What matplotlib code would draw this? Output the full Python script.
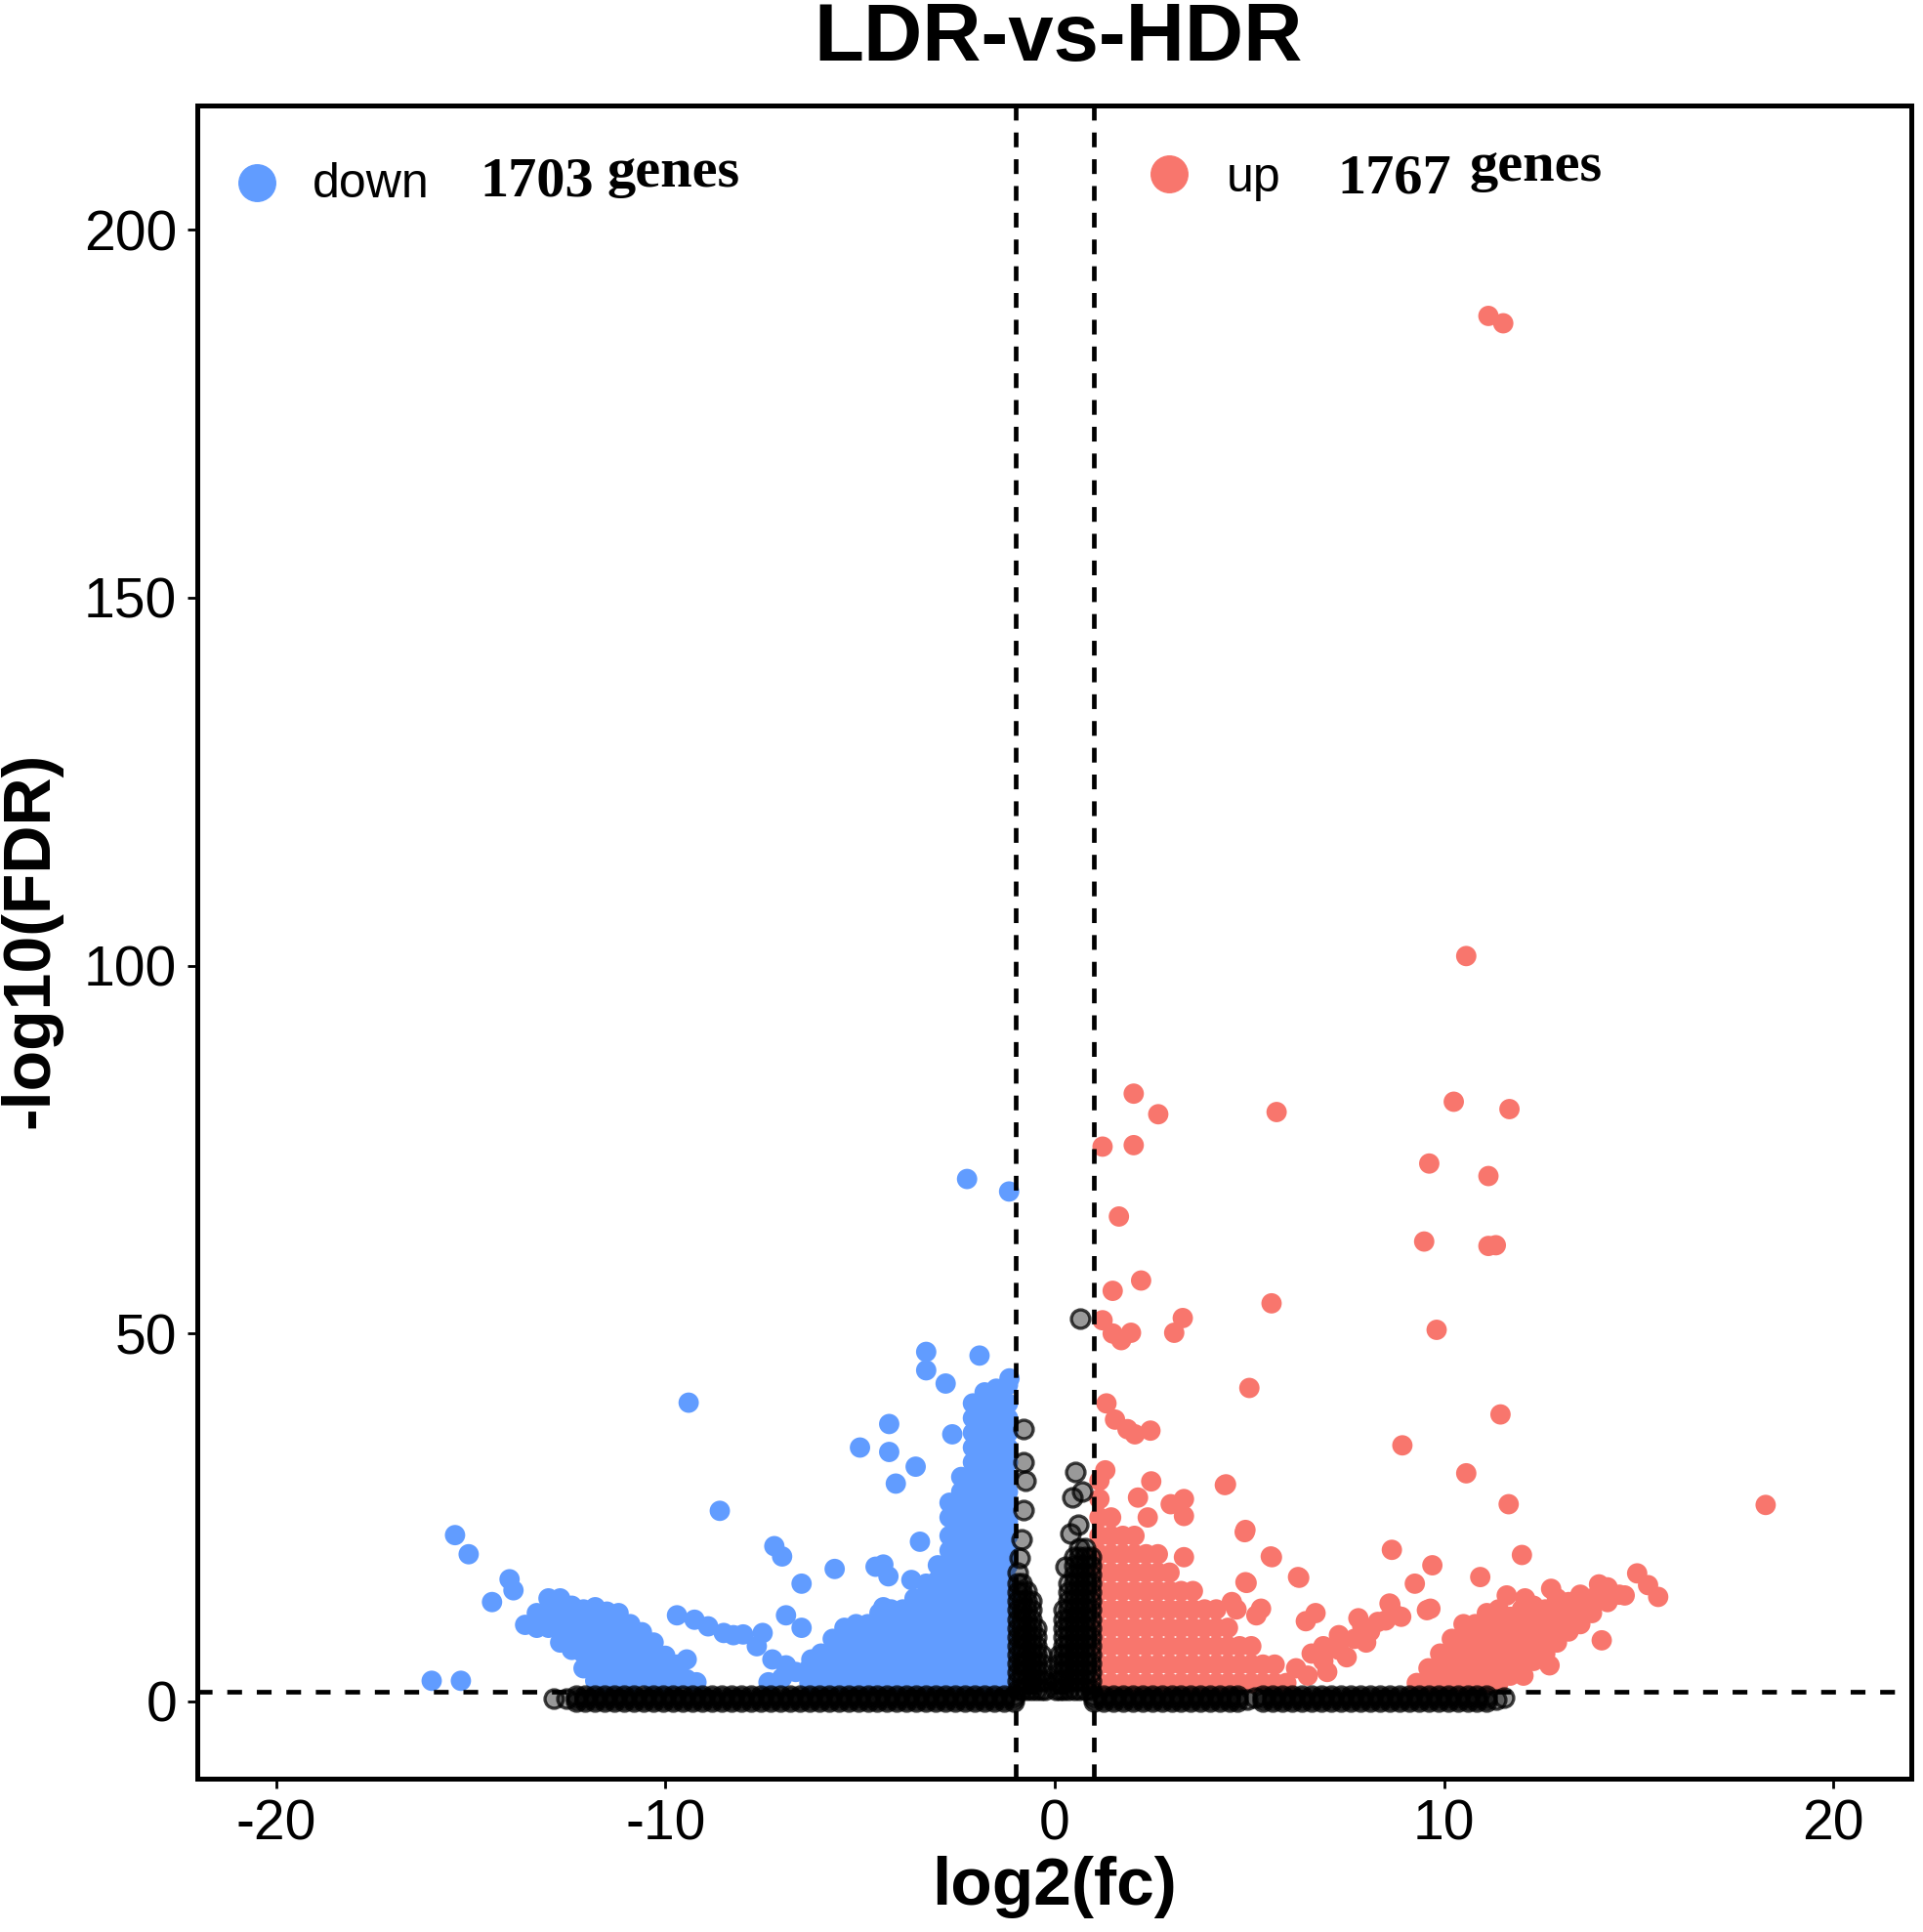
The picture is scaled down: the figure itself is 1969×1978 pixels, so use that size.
import matplotlib
matplotlib.use('Agg')
import matplotlib.pyplot as plt

plt.rcParams['font.family'] = ['Liberation Sans', 'DejaVu Sans']
plt.rcParams['axes.unicode_minus'] = False

# colours of the ggplot volcano
down_col = '#619CFF'
up_col = '#F8766D'

# thresholds drawn as dashed lines
fc_cut = [-1, 1]
fdr_cut = 1.3

# x tick / y tick values
x_ticks = [-20, -10, 0, 10, 20]
y_ticks = [0, 50, 100, 150, 200]

# ---------------- down regulated (blue) ----------------
down_points = [
    (-16.0, 2.8), (-15.25, 2.8), (-15.4, 22.6), (-15.05, 20.0), (-14.0, 16.6),
    (-13.9, 15.1), (-14.45, 13.5), (-9.4, 40.6), (-8.6, 25.9), (-7.2, 21.1),
    (-7.0, 19.7), (-6.5, 16.0), (-5.65, 18.0), (-6.9, 11.7), (-6.5, 10.0),
    (-9.7, 11.7), (-9.25, 11.1), (-8.9, 10.2), (-8.5, 9.3), (-8.25, 9.0),
    (-8.0, 9.1), (-7.5, 9.3), (-7.65, 7.5), (-7.25, 5.7), (-6.9, 4.9),
    (-6.65, 4.0), (-6.25, 5.7), (-7.35, 2.6), (-7.0, 3.2),
    (-2.25, 71.0), (-1.17, 69.3), (-3.3, 47.5), (-3.3, 45.0), (-1.93, 47.0),
    (-2.8, 43.2), (-1.16, 43.9), (-4.25, 37.7), (-5.0, 34.5), (-4.25, 33.9),
    (-3.57, 31.9), (-4.08, 29.6), (-2.63, 36.3), (-3.46, 21.7), (-4.6, 18.3),
    (-4.4, 18.6), (-4.27, 17.0), (-3.68, 16.5), (-3.59, 13.4), (-4.4, 12.8),
]

# dense blue areas, read column by column (x, list of y)
down_columns = [
    (-13.6, [10.4]),
    (-13.3, [12.0, 10.0]),
    (-13.0, [14.0, 12.0, 10.0]),
    (-12.7, [14.0, 12.0, 10.0, 8.0]),
    (-12.4, [13.0, 11.0, 9.0, 7.0]),
    (-12.1, [12.5, 10.5, 8.5, 6.5, 4.5]),
    (-11.8, [12.8, 10.8, 8.8, 6.8, 4.8, 2.8]),
    (-11.5, [12.2, 10.2, 8.2, 6.2, 4.2, 2.4]),
    (-11.2, [12.0, 10.0, 8.0, 6.0, 4.0, 2.2]),
    (-10.9, [10.5, 8.5, 6.5, 4.5, 2.5]),
    (-10.6, [9.4, 7.4, 5.4, 3.4]),
    (-10.3, [8.0, 6.0, 4.0, 2.2]),
    (-10.0, [6.2, 4.2, 2.4]),
    (-9.7, [5.0, 3.0]),
    (-9.45, [5.7, 3.0]),
    (-9.2, [2.6]),
    (-6.3, [2.5, 4.5]),
    (-6.0, [2.5, 4.5, 6.5]),
    (-5.7, [2.5, 4.5, 6.5, 8.5]),
    (-5.4, [2.5, 4.5, 6.5, 8.5, 10.0]),
    (-5.1, [2.5, 4.5, 6.5, 8.5, 10.5]),
    (-4.8, [2.5, 4.5, 6.5, 8.5, 10.5]),
    (-4.5, [2.5, 4.5, 6.5, 8.5, 10.5, 12.0]),
    (-4.2, [2.5, 4.5, 6.5, 8.5, 10.5, 12.5]),
    (-3.9, [2.5, 4.5, 6.5, 8.5, 10.5, 12.5]),
    (-3.6, [2.5, 4.5, 6.5, 8.5, 10.5, 12.5, 14.0]),
    (-3.3, [2.5, 4.5, 6.5, 8.5, 10.5, 12.5, 14.5, 16.0]),
    (-3.0, [2.5, 4.5, 6.5, 8.5, 10.5, 12.5, 14.5, 16.5, 18.5]),
    (-2.7, [2.5, 4.5, 6.5, 8.5, 10.5, 12.5, 14.5, 16.5, 18.5, 20.5, 22.5, 25.0, 27.0]),
    (-2.4, [2.5, 4.5, 6.5, 8.5, 10.5, 12.5, 14.5, 16.5, 18.5, 20.5, 22.5, 24.5,
            26.5, 28.5, 30.5]),
    (-2.1, [2.5, 4.5, 6.5, 8.5, 10.5, 12.5, 14.5, 16.5, 18.5, 20.5, 22.5, 24.5,
            26.5, 28.5, 30.5, 32.5, 34.5, 36.5, 38.5, 40.5]),
    (-1.8, [2.5, 4.5, 6.5, 8.5, 10.5, 12.5, 14.5, 16.5, 18.5, 20.5, 22.5, 24.5,
            26.5, 28.5, 30.5, 32.5, 34.5, 36.5, 38.5, 40.5, 42.0]),
    (-1.5, [2.5, 4.5, 6.5, 8.5, 10.5, 12.5, 14.5, 16.5, 18.5, 20.5, 22.5, 24.5,
            26.5, 28.5, 30.5, 32.5, 34.5, 36.5, 38.5, 40.5, 42.5]),
    (-1.2, [2.5, 4.5, 6.5, 8.5, 10.5, 12.5, 14.5, 16.5, 18.5, 20.5, 22.5, 24.5,
            26.5, 28.5, 30.5, 32.5, 34.5, 36.5, 38.5, 40.5, 43.0]),
]

# ---------------- up regulated (red) ----------------
up_points = [
    (11.14, 188.3), (11.52, 187.3), (10.57, 101.3), (2.03, 82.6), (2.66, 79.8),
    (5.70, 80.1), (10.25, 81.5), (11.68, 80.5), (1.23, 75.4), (2.03, 75.6),
    (9.62, 73.1), (11.14, 71.4), (1.65, 65.9), (9.49, 62.5), (11.14, 61.9),
    (11.33, 62.0), (1.49, 55.8), (2.22, 57.2), (5.57, 54.1), (3.29, 52.1),
    (3.07, 50.1), (1.23, 51.8), (1.49, 50.0), (1.96, 50.1), (1.71, 49.1),
    (9.81, 50.5), (5.0, 42.6), (1.33, 40.5), (1.55, 38.3), (1.87, 37.0),
    (2.46, 36.8), (2.06, 36.3), (11.45, 39.0), (8.93, 34.8), (1.3, 31.4),
    (10.57, 31.0), (4.37, 29.4), (11.66, 26.8), (18.26, 26.7), (2.98, 26.8),
    (3.32, 27.5), (3.32, 25.2), (4.88, 23.0), (8.66, 20.6), (5.58, 19.6),
    (12.0, 19.9), (9.7, 18.5), (6.28, 16.8), (10.93, 16.9), (4.93, 16.1),
    (9.56, 12.4), (8.62, 13.2), (14.05, 8.3), (14.96, 17.4), (15.24, 15.8),
    (15.5, 14.2), (13.98, 15.9), (11.61, 14.4), (12.08, 14.0), (12.75, 15.3),
    (14.64, 14.4), (12.71, 4.9), (12.04, 3.5), (2.48, 29.9), (2.14, 27.7),
    (2.39, 25.0), (3.32, 19.6), (4.67, 12.5), (5.18, 11.7), (9.25, 16.0),
    (9.65, 12.6), (6.5, 3.5), (6.9, 5.5), (7.3, 7.0), (7.7, 8.5), (8.1, 9.5),
    (8.5, 11.0), (8.9, 11.5), (6.7, 12.0), (6.45, 10.9), (7.8, 11.3),
    (8.6, 13.3), (7.0, 4.0), (7.5, 6.0), (8.0, 8.0), (6.2, 4.5), (5.3, 12.6),
    (4.55, 13.5), (4.9, 16.2), (6.25, 16.9), (5.55, 19.7), (4.9, 23.3),
    (4.4, 29.5), (6.9, 7.5), (7.3, 9.0), (6.6, 6.5), (7.9, 10.2), (8.3, 10.8),
    (8.7, 12.0),
]

up_columns = [
    (1.15, [2.5, 5.0, 7.5, 10.0, 12.5, 15.0, 17.5, 20.0, 22.5, 25.0, 27.5, 30.0]),
    (1.45, [2.5, 5.0, 7.5, 10.0, 12.5, 15.0, 17.5, 20.0, 22.5, 25.0]),
    (1.75, [2.5, 5.0, 7.5, 10.0, 12.5, 15.0, 17.5, 20.0, 22.5]),
    (2.05, [2.5, 5.0, 7.5, 10.0, 12.5, 15.0, 17.5, 20.0, 22.5]),
    (2.35, [2.5, 5.0, 7.5, 10.0, 12.5, 15.0, 17.5, 20.0]),
    (2.65, [2.5, 5.0, 7.5, 10.0, 12.5, 15.0, 17.5, 20.0]),
    (2.95, [2.5, 5.0, 7.5, 10.0, 12.5, 15.0, 17.5]),
    (3.25, [2.5, 5.0, 7.5, 10.0, 12.5, 15.0]),
    (3.55, [2.5, 5.0, 7.5, 10.0, 12.5, 15.0]),
    (3.85, [2.5, 5.0, 7.5, 10.0, 12.5]),
    (4.15, [2.5, 5.0, 7.5, 10.0, 12.5]),
    (4.45, [2.5, 5.0, 7.5, 10.0]),
    (4.75, [2.5, 5.0, 7.5]),
    (5.05, [2.5, 5.0, 7.5]),
    (5.35, [2.5, 5.0]),
    (5.65, [2.5, 5.0]),
    (5.95, [2.5]),
    (9.3, [2.5]),
    (9.6, [2.5, 4.5]),
    (9.9, [2.5, 4.5, 6.5]),
    (10.2, [2.5, 4.5, 6.5, 8.5]),
    (10.5, [2.5, 4.5, 6.5, 8.5, 10.5]),
    (10.8, [2.5, 4.5, 6.5, 8.5, 10.5]),
    (11.1, [2.5, 4.5, 6.5, 8.5, 10.5, 12.0]),
    (11.4, [2.5, 4.5, 6.5, 8.5, 10.5, 12.5]),
    (11.7, [3.5, 5.5, 7.5, 9.5, 11.5]),
    (12.0, [4.5, 6.5, 8.5, 10.5, 12.5]),
    (12.3, [5.5, 7.5, 9.5, 11.5, 13.0]),
    (12.6, [6.5, 8.5, 10.5, 12.5]),
    (12.9, [8.0, 10.0, 12.0, 14.0]),
    (13.2, [9.5, 11.5, 13.5]),
    (13.5, [10.5, 12.5, 14.5]),
    (13.8, [12.0, 14.0]),
    (14.2, [13.5, 15.5]),
    (14.5, [14.5]),
]

# ---------------- not significant (black / grey rings) ----------------
ns_points = [
    (-0.95, 17.5), (-0.9, 19.5), (-0.85, 22.0), (-0.8, 26.0), (-0.75, 30.0),
    (-0.81, 32.5), (-0.81, 37.0), (0.65, 52.0), (0.54, 31.2), (0.45, 27.7),
    (0.41, 22.8), (0.28, 18.3), (0.6, 24.0), (0.7, 28.5), (-12.87, 0.4),
    (-12.54, 0.4), (4.95, 0.2), (5.15, 0.5), (11.35, 0.3), (11.55, 0.5),
]

ns_band_left = [-12.3, -12.05, -11.8, -11.55, -11.3, -11.05, -10.8, -10.55, -10.3,
                -10.05, -9.8, -9.55, -9.3, -9.05, -8.8, -8.55, -8.3, -8.05, -7.8,
                -7.55, -7.3, -7.05, -6.8, -6.55, -6.3, -6.05, -5.8, -5.55, -5.3,
                -5.05, -4.8, -4.55, -4.3, -4.05, -3.8, -3.55, -3.3, -3.05, -2.8,
                -2.55, -2.3, -2.05, -1.8, -1.55, -1.3, -1.05]
ns_band_right = [1.0, 1.25, 1.5, 1.75, 2.0, 2.25, 2.5, 2.75, 3.0, 3.25, 3.5, 3.75,
                 4.0, 4.25, 4.5, 4.7, 5.35, 5.6, 5.85, 6.1, 6.35, 6.6, 6.85, 7.1,
                 7.35, 7.6, 7.85, 8.1, 8.35, 8.6, 8.85, 9.1, 9.35, 9.6, 9.85, 10.1,
                 10.35, 10.6, 10.85, 11.1]
ns_band_rows = [0.0, 0.4, 0.8]

ns_columns = [
    (-0.95, [1.6, 2.8, 4.0, 5.2, 6.4, 7.6, 8.8, 10.0, 11.2, 12.4, 13.6, 14.8, 16.0]),
    (-0.84, [1.6, 2.8, 4.0, 5.2, 6.4, 7.6, 8.8, 10.0, 11.2, 12.4, 13.6, 14.8, 16.0]),
    (-0.72, [1.6, 2.8, 4.0, 5.2, 6.4, 7.6, 8.8, 10.0, 11.2, 12.4, 13.6, 15.0]),
    (-0.6, [1.6, 2.8, 4.0, 5.2, 6.4, 7.6, 8.8, 10.0, 11.2, 12.4, 13.6]),
    (-0.48, [1.6, 2.8, 4.0, 5.2, 6.4, 7.6, 8.8, 10.0]),
    (-0.36, [1.6, 2.8, 4.0, 5.2, 6.4]),
    (-0.24, [1.6, 2.8]),
    (0.02, [1.6, 2.8]),
    (0.12, [1.6, 2.8, 4.0, 5.2, 6.4]),
    (0.24, [1.6, 2.8, 4.0, 5.2, 6.4, 7.6, 8.8, 10.0, 11.2, 12.4]),
    (0.36, [1.6, 2.8, 4.0, 5.2, 6.4, 7.6, 8.8, 10.0, 11.2, 12.4, 13.6, 14.8, 16.0]),
    (0.5, [1.6, 2.8, 4.0, 5.2, 6.4, 7.6, 8.8, 10.0, 11.2, 12.4, 13.6, 14.8, 16.0,
           17.2, 18.4, 19.6]),
    (0.64, [1.6, 2.8, 4.0, 5.2, 6.4, 7.6, 8.8, 10.0, 11.2, 12.4, 13.6, 14.8, 16.0,
            17.2, 18.4, 19.6, 20.8]),
    (0.78, [1.6, 2.8, 4.0, 5.2, 6.4, 7.6, 8.8, 10.0, 11.2, 12.4, 13.6, 14.8, 16.0,
            17.2, 18.4, 19.6, 20.8]),
    (0.92, [1.6, 2.8, 4.0, 5.2, 6.4, 7.6, 8.8, 10.0, 11.2, 12.4, 13.6, 14.8, 16.0,
            17.2, 18.4, 19.6]),
]

n_down = 1703
n_up = 1767


def unpack(points, columns):
    xs = [p[0] for p in points]
    ys = [p[1] for p in points]
    for x, col in columns:
        for y in col:
            xs.append(x)
            ys.append(y)
    return xs, ys


down_x, down_y = unpack(down_points, down_columns)
up_x, up_y = unpack(up_points, up_columns)
ns_x, ns_y = unpack(ns_points, ns_columns)
for row in ns_band_rows:
    for x in ns_band_left + ns_band_right:
        ns_x.append(x)
        ns_y.append(row)

W, H = 1969, 1978
fig = plt.figure(figsize=(W / 100, H / 100), dpi=100)
ax_l, ax_r, ax_t, ax_b = 202, 1957, 108, 1821
ax = fig.add_axes([ax_l / W, 1 - ax_b / H, (ax_r - ax_l) / W, (ax_b - ax_t) / H])

ax.scatter(down_x, down_y, s=225, c=down_col, edgecolors='none', zorder=2)
ax.scatter(up_x, up_y, s=225, c=up_col, edgecolors='none', zorder=2)
# grey rings, piling up to black where they are dense
ax.scatter(ns_x, ns_y, s=185, facecolors=(0, 0, 0, 0.4), edgecolors=(0, 0, 0, 0.75),
           linewidths=2.4, zorder=3)

for v in fc_cut:
    ax.axvline(v, color='black', lw=3.4, ls=(0, (3.2, 2.6)), zorder=4)
ax.axhline(fdr_cut, color='black', lw=3.4, ls=(0, (3.2, 3.2)), zorder=4)

ax.set_xlim(-22.02, 22.0)
ax.set_ylim(-10.5, 216.9)
ax.set_xticks(x_ticks)
ax.set_yticks(y_ticks)
ax.tick_params(axis='both', direction='out', length=7, width=2,
               labelsize=41, pad=8, colors='black')
for sp in ax.spines.values():
    sp.set_linewidth(3.6)
    sp.set_color('black')

# legend-like header inside the panel
ax.plot([0.0345], [0.954], 'o', ms=27, color=down_col, transform=ax.transAxes,
        clip_on=False)
ax.plot([0.567], [0.959], 'o', ms=27, color=up_col, transform=ax.transAxes,
        clip_on=False)
ax.text(0.0672, 0.953, 'down', transform=ax.transAxes, fontsize=36,
        va='center', ha='left')
ax.text(0.165, 0.954, str(n_down), transform=ax.transAxes, fontsize=42,
        family='Liberation Serif', weight='bold', va='center', ha='left')
ax.text(0.239, 0.960, 'genes', transform=ax.transAxes, fontsize=42,
        family='Liberation Serif', weight='bold', va='center', ha='left')
ax.text(0.6006, 0.956, 'up', transform=ax.transAxes, fontsize=36,
        va='center', ha='left')
ax.text(0.665, 0.956, str(n_up), transform=ax.transAxes, fontsize=42,
        family='Liberation Serif', weight='bold', va='center', ha='left')
ax.text(0.742, 0.963, 'genes', transform=ax.transAxes, fontsize=42,
        family='Liberation Serif', weight='bold', va='center', ha='left')

fig.text(1084 / W, 1 - 40 / H, 'LDR-vs-HDR', fontsize=60, weight='bold',
         ha='center', va='center')
fig.text(1080 / W, 1 - 1932 / H, 'log2(fc)', fontsize=50, weight='bold',
         ha='center', va='center')
fig.text(31 / W, 1 - 962 / H, '-log10(FDR)', fontsize=49, weight='bold',
         ha='center', va='center', rotation=90)

fig.savefig('out.png', dpi=100)
